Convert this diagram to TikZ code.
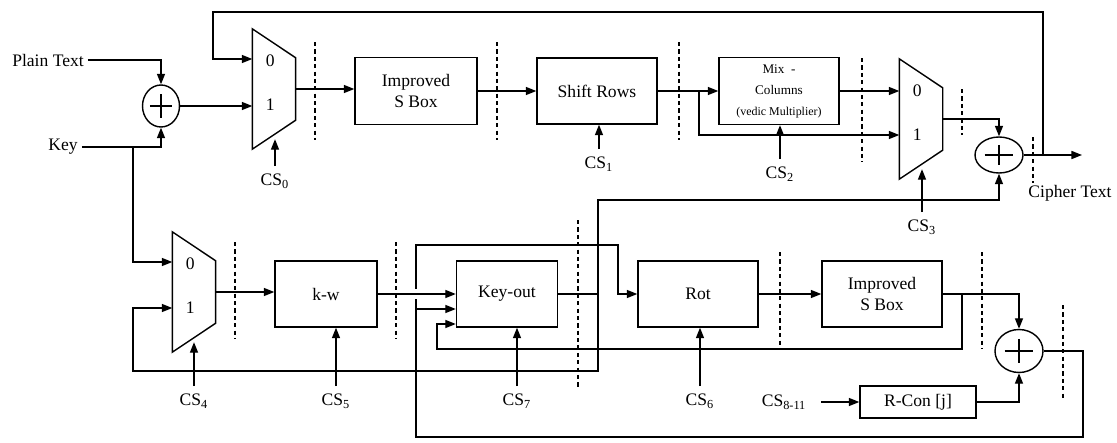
\documentclass[tikz,border=0pt]{standalone}
\usepackage{fontspec}
\setmainfont{Liberation Serif}
\usetikzlibrary{arrows.meta,positioning,calc,shapes.geometric}

\begin{document}
\begin{tikzpicture}[
  x=0.02cm,y=-0.02cm,
  font=\fontsize{10}{12}\selectfont,
  line width=0.8pt,
  blockbox/.style={draw,align=center,minimum width=2.4cm,minimum height=1.32cm,inner sep=1pt},
  muxbox/.style={minimum width=0.84cm,minimum height=2.38cm,inner sep=0pt},
  xorgate/.style={draw,ellipse,inner sep=0pt,path picture={
      \draw[line width=1.5pt] ($(path picture bounding box.west)!0.2!(path picture bounding box.east)$) -- ($(path picture bounding box.west)!0.8!(path picture bounding box.east)$);
      \draw[line width=1.5pt] ($(path picture bounding box.north)!0.22!(path picture bounding box.south)$) -- ($(path picture bounding box.north)!0.78!(path picture bounding box.south)$);}},
  cslabel/.style={inner xsep=1pt,inner ysep=4pt},
  txtlabel/.style={inner sep=2pt},
  arr/.style={-{Triangle[length=6pt,width=4.6pt]}},
  reg/.style={line width=0.6pt,dash pattern=on 2.4pt off 1.8pt}
]
\useasboundingbox (0,0) rectangle (1117,443);

% encryption row
\node[txtlabel] (plain) at (48,60) {Plain Text};
\node[txtlabel] (key) at (63,147) {Key};
\node[xorgate,minimum width=0.74cm,minimum height=0.84cm] (xor1) at (161,106) {};
\node[muxbox] (mux0) at (274,89) {};
\node[blockbox,minimum width=2.44cm,minimum height=1.34cm] (sbox1) at (416,91) {Improved\\S Box};
\node[blockbox] (shift) at (597,91) {Shift Rows};
\node[blockbox,minimum height=1.34cm] (mix) at (779,91) {\fontsize{7.5}{10}\selectfont Mix\ \ -\\\fontsize{7.5}{10}\selectfont Columns\\\fontsize{6.8}{11}\selectfont (vedic Multiplier)};
\node[muxbox] (mux3) at (921,119) {};
\node[xorgate,minimum width=0.96cm,minimum height=0.72cm] (xorf) at (999,155) {};
\node[txtlabel] (ctext) at (1070,193) {Cipher Text};

% key row
\node[muxbox] (mux4) at (194,292) {};
\node[blockbox,minimum width=2.04cm] (kw) at (326,294) {k-w};
\node[blockbox,minimum width=2.02cm] (keyout) at (507,294) {Key-out};
\node[blockbox] (rot) at (698,294) {Rot};
\node[blockbox] (sbox2) at (882,294) {Improved\\S Box};
\node[xorgate,minimum width=0.96cm,minimum height=0.86cm] (xorb) at (1019,351) {};
\node[blockbox,minimum width=2.32cm,minimum height=0.64cm] (rcon) at (918,402) {R-Con [j]};

% control signals
\node[cslabel] (cs0) at (275,181) {CS\textsubscript{0}};
\node[cslabel] (cs1) at (599,164) {CS\textsubscript{1}};
\node[cslabel] (cs2) at (780,174) {CS\textsubscript{2}};
\node[cslabel] (cs3) at (922,227) {CS\textsubscript{3}};
\node[cslabel] (cs4) at (194,401) {CS\textsubscript{4}};
\node[cslabel] (cs5) at (336,401) {CS\textsubscript{5}};
\node[cslabel] (cs7) at (517,401) {CS\textsubscript{7}};
\node[cslabel] (cs6) at (700,401) {CS\textsubscript{6}};
\node[cslabel,anchor=east,inner xsep=8pt] (cs8) at (821,402) {CS\textsubscript{8-11}};

% multiplexers
\foreach \m in {mux0,mux3,mux4}{
  \draw (\m.north west) -- ($(\m.north east)+(0,29)$) -- ($(\m.south east)+(0,-29)$) -- (\m.south west) -- cycle;
  \coordinate (\m-in0) at ($(\m.west)+(0,-30)$);
  \coordinate (\m-in1) at ($(\m.west)+(0,16)$);
  \coordinate (\m-sel) at ($(\m.south)+(0,-10)$);
  \node (\m-z) at ($(\m-in0)+(18,2)$) {0};
  \node (\m-o) at ($(\m-in1)+(18,0)$) {1};
}

\coordinate (kj) at (133,147);
\coordinate (fb) at (213,12);
\coordinate (jo) at (1043,155);
\coordinate (ct) at (1082,155);
\coordinate (sj) at (699,91);
\coordinate (kt) at (598,200);
\coordinate (j1) at (598,294);
\coordinate (kb) at (133,371);
\coordinate (lr) at (1083,437);
\coordinate (ll) at (416,437);
\coordinate (lt) at (618,245);
\coordinate (sj2) at (962,294);
\coordinate (ls) at (437,349);
\coordinate (kin2) at ($(keyout.west)+(0,15)$);
\coordinate (kin3) at ($(keyout.west)+(0,30)$);

% data path, encryption
\draw[arr] (plain.east) -| (xor1.north);
\draw[arr] (key.east) -| (xor1.south);
\draw[arr] (xor1.east) -- (xor1.east -| mux0.west);
\draw[arr] (jo) |- (fb) |- (mux0-in0);
\draw[arr] (mux0.east) -- (mux0.east -| sbox1.west);
\draw[arr] (sbox1.east) -- (shift.west);
\draw[arr] (shift.east) -- (mix.west);
\draw[arr] (sj) |- (mux3-in1);
\draw[arr] (mix.east) -- (mix.east -| mux3.west);
\draw[arr] (mux3.east) -| (xorf.north);
\draw[arr] (xorf.east) -- (ct);

% data path, key expansion
\draw[arr] (kj) |- (mux4-in0);
\draw[arr] (mux4.east) -- (mux4.east -| kw.west);
\draw (keyout.east) -- (j1);
\draw[arr] (j1) -- (kt) -| (xorf.south);
\draw[arr] (j1) |- (kb) |- (mux4-in1);
\draw[arr] (xorb.east) -| (lr) -- (ll) |- (lt) |- (rot.west);
\draw[arr] (ll |- kin2) -- (kin2);
\fill[white] ($(ll |- kw.east)+(-4,-5)$) rectangle ($(ll |- kw.east)+(4,5)$);
\draw[arr] (kw.east) -- (keyout.west);
\draw[arr] (rot.east) -- (sbox2.west);
\draw[arr] (sbox2.east) -| (xorb.north);
\draw[arr] (sj2) |- (ls) |- (kin3);
\draw[arr] (cs8.east) -- (rcon.west);
\draw[arr] (rcon.east) -| (xorb.south);

% control arrows
\draw[arr] (cs0.north) -- (cs0.north |- mux0-sel);
\draw[arr] (cs1.north) -- (cs1.north |- shift.south);
\draw[arr] (cs2.north) -- (cs2.north |- mix.south);
\draw[arr] (cs3.north) -- (cs3.north |- mux3-sel);
\draw[arr] (cs4.north) -- (cs4.north |- mux4-sel);
\draw[arr] (cs5.north) -- (cs5.north |- kw.south);
\draw[arr] (cs7.north) -- (cs7.north |- keyout.south);
\draw[arr] (cs6.north) -- (cs6.north |- rot.south);

% pipeline registers
\foreach \x/\ya/\yb in {315/42/140,497/42/140,679/42/140,862/58/162,962/89/135,1033/137/183,
                        235/242/338,396/242/338,578/220/387,780/252/348,982/252/348,1063/305/400}
  \draw[reg] (\x,\ya) -- (\x,\yb);
\end{tikzpicture}
\end{document}
